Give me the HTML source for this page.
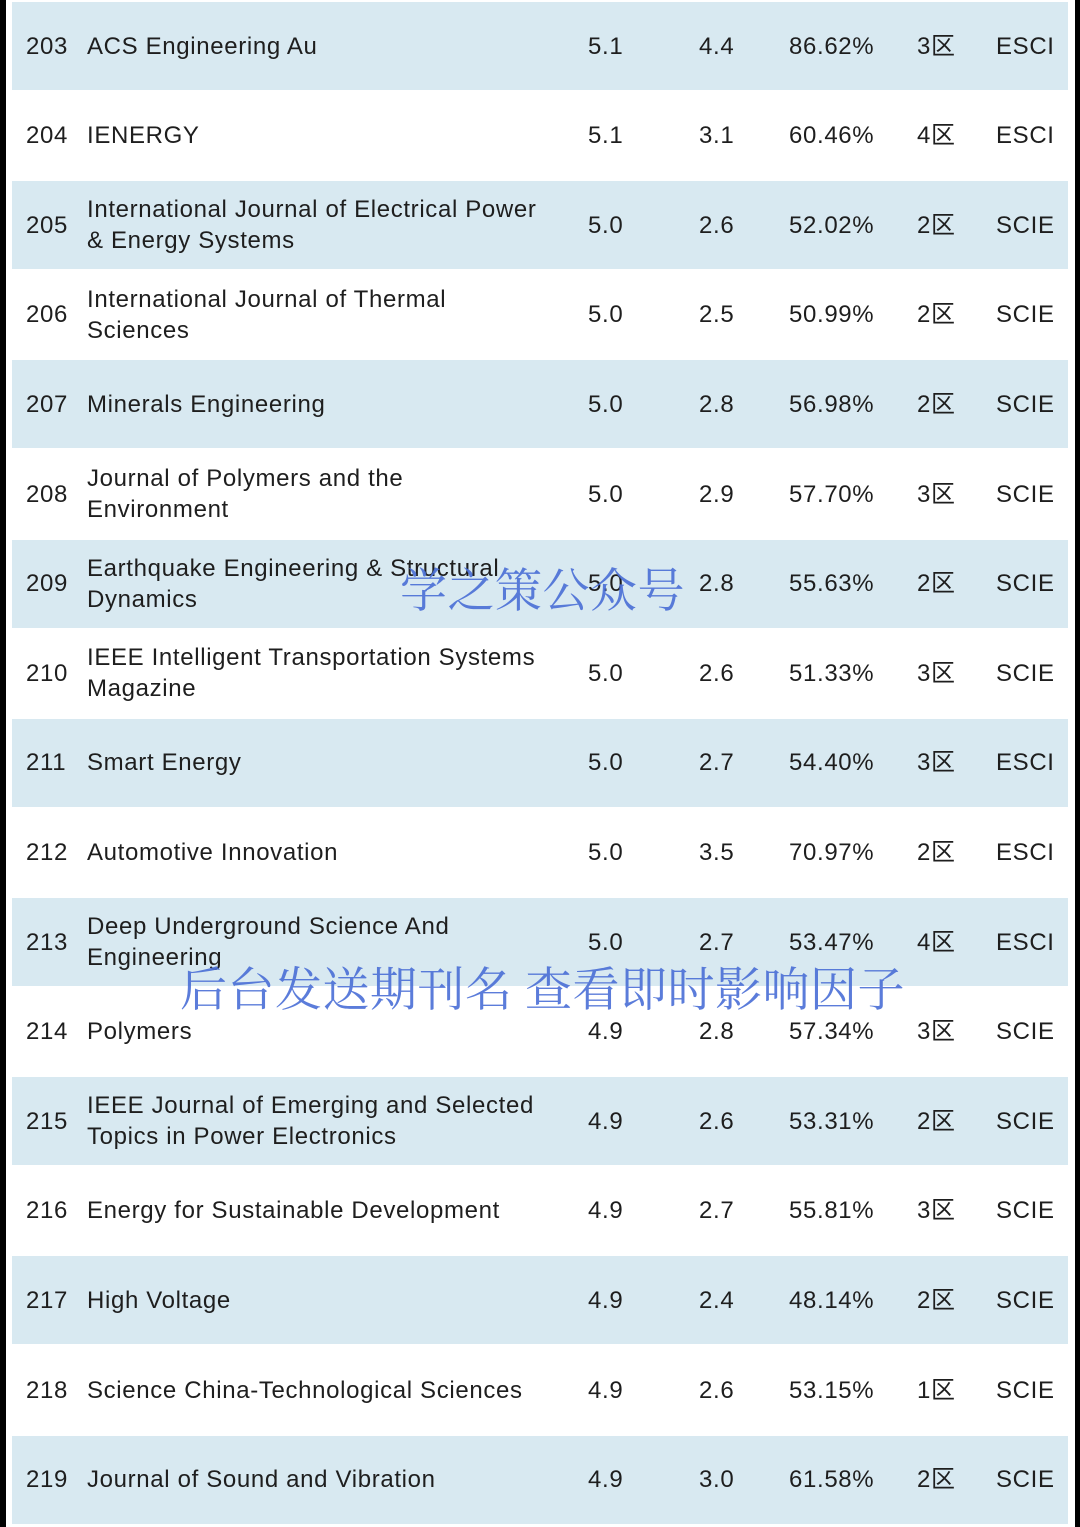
<!DOCTYPE html>
<html><head><meta charset="utf-8">
<style>
body{margin:0;width:1080px;height:1527px;background:#fff;position:relative;overflow:hidden;font-family:"Liberation Sans","Noto Sans CJK SC",sans-serif;color:#1e1e1e}
.lb{position:absolute;left:0;top:0;width:6px;height:1527px;background:#000}
.rb{position:absolute;right:0;top:0;width:5px;height:1527px;background:#000}
.row{position:absolute;left:12px;width:1056px;height:88px}
.row.b{background:#d8e9f1}
.c{position:absolute;top:0;height:88px;display:flex;align-items:center;font-size:24px;line-height:31px;white-space:nowrap;letter-spacing:0.65px}
.wm{position:absolute;font-family:"Noto Serif CJK SC",serif;color:#4a6ed6;font-size:47px;opacity:.9;white-space:nowrap;letter-spacing:0.5px}
</style></head><body>
<div class="lb"></div>
<div class="rb"></div>
<div id="t"></div>
<div class="wm" style="left:400px;top:554px">学之策公众号</div>
<div class="wm" style="left:180px;top:953px">后台发送期刊名 查看即时影响因子</div>
<script>
const ranks=[203,204,205,206,207,208,209,210,211,212,213,214,215,216,217,218,219];
const names=["ACS Engineering Au","IENERGY","International Journal of Electrical Power<br>&amp; Energy Systems","International Journal of Thermal<br>Sciences","Minerals Engineering","Journal of Polymers and the<br>Environment","Earthquake Engineering &amp; Structural<br>Dynamics","IEEE Intelligent Transportation Systems<br>Magazine","Smart Energy","Automotive Innovation","Deep Underground Science And<br>Engineering","Polymers","IEEE Journal of Emerging and Selected<br>Topics in Power Electronics","Energy for Sustainable Development","High Voltage","Science China-Technological Sciences","Journal of Sound and Vibration"];
const ifs=["5.1","5.1","5.0","5.0","5.0","5.0","5.0","5.0","5.0","5.0","5.0","4.9","4.9","4.9","4.9","4.9","4.9"];
const fives=["4.4","3.1","2.6","2.5","2.8","2.9","2.8","2.6","2.7","3.5","2.7","2.8","2.6","2.7","2.4","2.6","3.0"];
const pcts=["86.62%","60.46%","52.02%","50.99%","56.98%","57.70%","55.63%","51.33%","54.40%","70.97%","53.47%","57.34%","53.31%","55.81%","48.14%","53.15%","61.58%"];
const zones=["3区","4区","2区","2区","2区","3区","2区","3区","3区","2区","4区","3区","2区","3区","2区","1区","2区"];
const idx=["ESCI","ESCI","SCIE","SCIE","SCIE","SCIE","SCIE","SCIE","ESCI","ESCI","ESCI","SCIE","SCIE","SCIE","SCIE","SCIE","SCIE"];
const t=document.getElementById('t');
const cols=[[14,ranks],[75,names],[576,ifs],[687,fives],[777,pcts],[905,zones],[984,idx]];
const cn=['rank','journal-name','impact-factor','five-year-if','percentile','zone','index'];
ranks.forEach((r,i)=>{
 const row=document.createElement('div');
 row.className='row'+(i%2==0?' b':'');
 row.style.top=(2+i*89.6)+'px';
 
 
 cols.forEach((c,j)=>{
  const d=document.createElement('div');
  d.className='c';d.style.left=c[0]+'px';
  d.innerHTML='<span>'+c[1][i]+'</span>';
  
  
  row.appendChild(d);
 });
 t.appendChild(row);
});
</script>
</body></html>
